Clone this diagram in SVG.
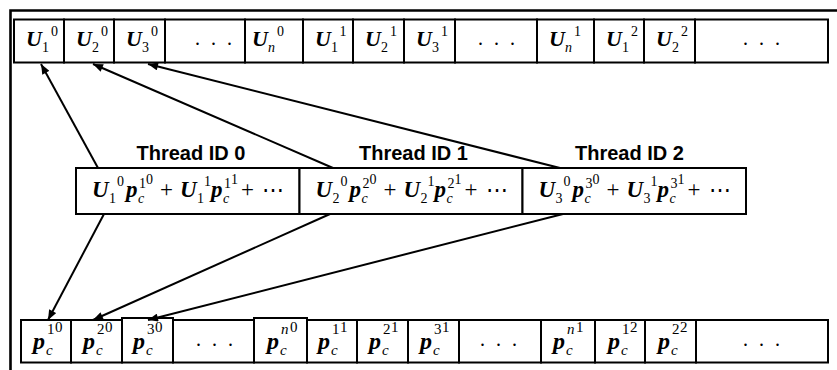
<svg xmlns="http://www.w3.org/2000/svg" width="837" height="370" viewBox="0 0 837 370">
<style>
.cell{fill:#fff;stroke:#000;stroke-width:2}
.frame{fill:none;stroke:#000;stroke-width:2.6}
.bi{font-family:"Liberation Serif",serif;font-weight:bold;font-style:italic;fill:#000}
.r{font-family:"Liberation Serif",serif;fill:#000}
.it{font-family:"Liberation Serif",serif;font-style:italic;fill:#000}
.lbl{font-family:"Liberation Sans",sans-serif;font-weight:bold;font-size:20px;fill:#000;text-anchor:middle}
.dots{font-family:"Liberation Serif",serif;font-size:20px;letter-spacing:3px;text-anchor:middle;fill:#000}
.conn{fill:none;stroke:#000;stroke-width:2;marker-end:url(#ah)}
</style>
<defs>
<marker id="ah" viewBox="0 0 10 8" refX="10" refY="4" markerWidth="11" markerHeight="8" markerUnits="userSpaceOnUse" orient="auto">
<path d="M0,0 L10,4 L0,8 Z" fill="#000"/>
</marker>
</defs>
<rect width="837" height="370" fill="#fff"/>
<path class="frame" d="M10.5,370 V10.5 H837"/>

<g id="top-row">
<g id="t1"><rect class="cell" x="14" y="19.5" width="50" height="43"/><text x="26" y="46"><tspan class="bi" font-size="22">U</tspan><tspan class="r" font-size="14" dy="6">1</tspan><tspan class="r" font-size="14" dy="-16" dx="2">0</tspan></text></g>
<g id="t2"><rect class="cell" x="64" y="19.5" width="50" height="43"/><text x="76" y="46"><tspan class="bi" font-size="22">U</tspan><tspan class="r" font-size="14" dy="6">2</tspan><tspan class="r" font-size="14" dy="-16" dx="2">0</tspan></text></g>
<g id="t3"><rect class="cell" x="114" y="19.5" width="51" height="43"/><text x="126" y="46"><tspan class="bi" font-size="22">U</tspan><tspan class="r" font-size="14" dy="6">3</tspan><tspan class="r" font-size="14" dy="-16" dx="2">0</tspan></text></g>
<g id="t4"><rect class="cell" x="165" y="19.5" width="80" height="43"/><text class="dots" x="215" y="45">. . .</text></g>
<g id="t5"><rect class="cell" x="245" y="19.5" width="58" height="43"/><text x="252" y="46"><tspan class="bi" font-size="22">U</tspan><tspan class="it" font-size="14" dy="6">n</tspan><tspan class="r" font-size="14" dy="-16" dx="2">0</tspan></text></g>
<g id="t6"><rect class="cell" x="303" y="19.5" width="50" height="43"/><text x="315" y="46"><tspan class="bi" font-size="22">U</tspan><tspan class="r" font-size="14" dy="6">1</tspan><tspan class="r" font-size="14" dy="-16" dx="2">1</tspan></text></g>
<g id="t7"><rect class="cell" x="353" y="19.5" width="51" height="43"/><text x="365" y="46"><tspan class="bi" font-size="22">U</tspan><tspan class="r" font-size="14" dy="6">2</tspan><tspan class="r" font-size="14" dy="-16" dx="2">1</tspan></text></g>
<g id="t8"><rect class="cell" x="404" y="19.5" width="51" height="43"/><text x="416" y="46"><tspan class="bi" font-size="22">U</tspan><tspan class="r" font-size="14" dy="6">3</tspan><tspan class="r" font-size="14" dy="-16" dx="2">1</tspan></text></g>
<g id="t9"><rect class="cell" x="455" y="19.5" width="82" height="43"/><text class="dots" x="498" y="45">. . .</text></g>
<g id="t10"><rect class="cell" x="537" y="19.5" width="57" height="43"/><text x="549" y="46"><tspan class="bi" font-size="22">U</tspan><tspan class="it" font-size="14" dy="6">n</tspan><tspan class="r" font-size="14" dy="-16" dx="2">1</tspan></text></g>
<g id="t11"><rect class="cell" x="594" y="19.5" width="50" height="43"/><text x="606" y="46"><tspan class="bi" font-size="22">U</tspan><tspan class="r" font-size="14" dy="6">1</tspan><tspan class="r" font-size="14" dy="-16" dx="2">2</tspan></text></g>
<g id="t12"><rect class="cell" x="644" y="19.5" width="51" height="43"/><text x="656" y="46"><tspan class="bi" font-size="22">U</tspan><tspan class="r" font-size="14" dy="6">2</tspan><tspan class="r" font-size="14" dy="-16" dx="2">2</tspan></text></g>
<g id="t13"><rect class="cell" x="695" y="19.5" width="133" height="43"/><text class="dots" x="763" y="45">. . .</text></g>
</g>

<g id="labels">
<text class="lbl" id="lbl0" x="191" y="160">Thread ID 0</text>
<text class="lbl" id="lbl1" x="413.5" y="160">Thread ID 1</text>
<text class="lbl" id="lbl2" x="629.5" y="160">Thread ID 2</text>
</g>

<g id="mid-row">
<g id="m1"><rect class="cell" x="76" y="168" width="223.5" height="46"/>
<text class="bi" x="92" y="197" font-size="23">U</text><text class="r" x="109" y="203" font-size="14">1</text><text class="r" x="117" y="186" font-size="14">0</text>
<text class="bi" x="126" y="197" font-size="23">p</text><text class="it" x="138" y="203" font-size="14">c</text><text class="r" x="139" y="188" font-size="14">1</text><text class="r" x="146" y="184" font-size="14">0</text>
<text class="r" x="160" y="197" font-size="23">+</text>
<text class="bi" x="180" y="197" font-size="23">U</text><text class="r" x="197" y="203" font-size="14">1</text><text class="r" x="204" y="186" font-size="14">1</text>
<text class="bi" x="211" y="197" font-size="23">p</text><text class="it" x="223" y="203" font-size="14">c</text><text class="r" x="224" y="188" font-size="14">1</text><text class="r" x="231" y="184" font-size="14">1</text>
<text class="r" x="241" y="197" font-size="23">+</text>
<text class="r" x="262" y="197" font-size="22">⋯</text></g>
<g id="m2"><rect class="cell" x="299.5" y="168" width="223" height="46"/>
<text class="bi" x="315.5" y="197" font-size="23">U</text><text class="r" x="332.5" y="203" font-size="14">2</text><text class="r" x="340.5" y="186" font-size="14">0</text>
<text class="bi" x="349.5" y="197" font-size="23">p</text><text class="it" x="361.5" y="203" font-size="14">c</text><text class="r" x="362.5" y="188" font-size="14">2</text><text class="r" x="369.5" y="184" font-size="14">0</text>
<text class="r" x="383.5" y="197" font-size="23">+</text>
<text class="bi" x="403.5" y="197" font-size="23">U</text><text class="r" x="420.5" y="203" font-size="14">2</text><text class="r" x="427.5" y="186" font-size="14">1</text>
<text class="bi" x="434.5" y="197" font-size="23">p</text><text class="it" x="446.5" y="203" font-size="14">c</text><text class="r" x="447.5" y="188" font-size="14">2</text><text class="r" x="454.5" y="184" font-size="14">1</text>
<text class="r" x="464.5" y="197" font-size="23">+</text>
<text class="r" x="485.5" y="197" font-size="22">⋯</text></g>
<g id="m3"><rect class="cell" x="522.5" y="168" width="223.5" height="46"/>
<text class="bi" x="538.5" y="197" font-size="23">U</text><text class="r" x="555.5" y="203" font-size="14">3</text><text class="r" x="563.5" y="186" font-size="14">0</text>
<text class="bi" x="572.5" y="197" font-size="23">p</text><text class="it" x="584.5" y="203" font-size="14">c</text><text class="r" x="585.5" y="188" font-size="14">3</text><text class="r" x="592.5" y="184" font-size="14">0</text>
<text class="r" x="606.5" y="197" font-size="23">+</text>
<text class="bi" x="626.5" y="197" font-size="23">U</text><text class="r" x="643.5" y="203" font-size="14">3</text><text class="r" x="650.5" y="186" font-size="14">1</text>
<text class="bi" x="657.5" y="197" font-size="23">p</text><text class="it" x="669.5" y="203" font-size="14">c</text><text class="r" x="670.5" y="188" font-size="14">3</text><text class="r" x="677.5" y="184" font-size="14">1</text>
<text class="r" x="687.5" y="197" font-size="23">+</text>
<text class="r" x="708.5" y="197" font-size="22">⋯</text></g>
</g>

<g id="bottom-row">
<g id="b1"><rect class="cell" x="21" y="320" width="50" height="42.5"/><text class="bi" x="33" y="349" font-size="24">p</text><text class="it" x="46" y="355" font-size="15">c</text><text class="r" x="47" y="334" font-size="15">1</text><text class="r" x="55" y="332" font-size="15">0</text></g>
<g id="b2"><rect class="cell" x="71" y="320" width="51" height="42.5"/><text class="bi" x="83" y="349" font-size="24">p</text><text class="it" x="96" y="355" font-size="15">c</text><text class="r" x="97" y="334" font-size="15">2</text><text class="r" x="105" y="332" font-size="15">0</text></g>
<g id="b3"><rect class="cell" x="122" y="318" width="51" height="44.5"/><text class="bi" x="133" y="349" font-size="24">p</text><text class="it" x="146" y="355" font-size="15">c</text><text class="r" x="147" y="334" font-size="15">3</text><text class="r" x="155" y="332" font-size="15">0</text></g>
<g id="b4"><rect class="cell" x="173" y="320" width="81" height="42.5"/><text class="dots" x="216" y="346">. . .</text></g>
<g id="b5"><rect class="cell" x="254" y="318" width="53" height="44.5"/><text class="bi" x="267" y="349" font-size="24">p</text><text class="it" x="280" y="355" font-size="15">c</text><text class="it" x="281" y="334" font-size="15">n</text><text class="r" x="290" y="332" font-size="15">0</text></g>
<g id="b6"><rect class="cell" x="307" y="320" width="50" height="42.5"/><text class="bi" x="318" y="349" font-size="24">p</text><text class="it" x="331" y="355" font-size="15">c</text><text class="r" x="332" y="334" font-size="15">1</text><text class="r" x="340" y="332" font-size="15">1</text></g>
<g id="b7"><rect class="cell" x="357" y="320" width="51" height="42.5"/><text class="bi" x="369" y="349" font-size="24">p</text><text class="it" x="382" y="355" font-size="15">c</text><text class="r" x="383" y="334" font-size="15">2</text><text class="r" x="391" y="332" font-size="15">1</text></g>
<g id="b8"><rect class="cell" x="408" y="320" width="51" height="42.5"/><text class="bi" x="420" y="349" font-size="24">p</text><text class="it" x="433" y="355" font-size="15">c</text><text class="r" x="434" y="334" font-size="15">3</text><text class="r" x="442" y="332" font-size="15">1</text></g>
<g id="b9"><rect class="cell" x="459" y="320" width="82" height="42.5"/><text class="dots" x="500" y="346">. . .</text></g>
<g id="b10"><rect class="cell" x="541" y="320" width="54" height="42.5"/><text class="bi" x="553" y="349" font-size="24">p</text><text class="it" x="566" y="355" font-size="15">c</text><text class="it" x="567" y="334" font-size="15">n</text><text class="r" x="576" y="332" font-size="15">1</text></g>
<g id="b11"><rect class="cell" x="595" y="320" width="50" height="42.5"/><text class="bi" x="608" y="349" font-size="24">p</text><text class="it" x="621" y="355" font-size="15">c</text><text class="r" x="622" y="334" font-size="15">1</text><text class="r" x="630" y="332" font-size="15">2</text></g>
<g id="b12"><rect class="cell" x="645" y="320" width="51" height="42.5"/><text class="bi" x="658" y="349" font-size="24">p</text><text class="it" x="671" y="355" font-size="15">c</text><text class="r" x="672" y="334" font-size="15">2</text><text class="r" x="680" y="332" font-size="15">2</text></g>
<g id="b13"><rect class="cell" x="696" y="320" width="132" height="42.5"/><text class="dots" x="763" y="346">. . .</text></g>
</g>

<g id="connectors">
<path class="conn" d="M98,168 L41,64"/>
<path class="conn" d="M333,168 L93,64"/>
<path class="conn" d="M560,168 L148,64"/>
<path class="conn" d="M104,214 L48,320"/>
<path class="conn" d="M330,214 L93,320"/>
<path class="conn" d="M563,214 L148,320"/>
</g>
</svg>
